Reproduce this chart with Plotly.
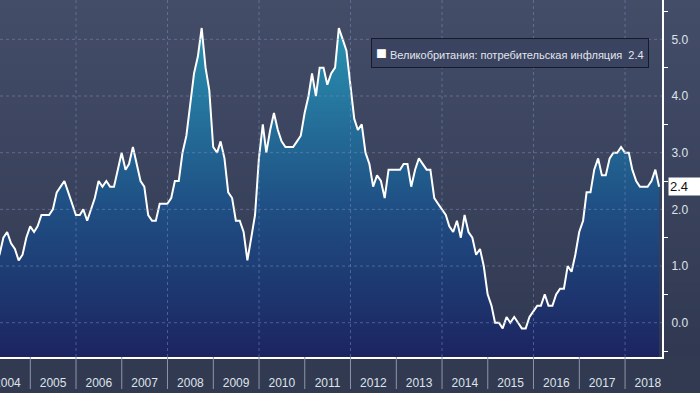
import base64, struct, zlib
import pandas as pd
import plotly.graph_objects as go

# ---- data (UK CPI, % y/y, monthly, Mar 2004 .. Sep 2018) ----
start_month = "2004-03-31"
cpi_2004 = [1.1, 1.2, 1.5, 1.6, 1.4, 1.3, 1.1, 1.2, 1.5, 1.7]
cpi_2005 = [1.6, 1.7, 1.9, 1.9, 1.9, 2.0, 2.3, 2.4, 2.5, 2.3, 2.1, 1.9]
cpi_2006 = [1.9, 2.0, 1.8, 2.0, 2.2, 2.5, 2.4, 2.5, 2.4, 2.4, 2.7, 3.0]
cpi_2007 = [2.7, 2.8, 3.1, 2.8, 2.5, 2.4, 1.9, 1.8, 1.8, 2.1, 2.1, 2.1]
cpi_2008 = [2.2, 2.5, 2.5, 3.0, 3.3, 3.8, 4.4, 4.7, 5.2, 4.5, 4.1, 3.1]
cpi_2009 = [3.0, 3.2, 2.9, 2.3, 2.2, 1.8, 1.8, 1.6, 1.1, 1.5, 1.9, 2.9]
cpi_2010 = [3.5, 3.0, 3.4, 3.7, 3.4, 3.2, 3.1, 3.1, 3.1, 3.2, 3.3, 3.7]
cpi_2011 = [4.0, 4.4, 4.0, 4.5, 4.5, 4.2, 4.4, 4.5, 5.2, 5.0, 4.8, 4.2]
cpi_2012 = [3.6, 3.4, 3.5, 3.0, 2.8, 2.4, 2.6, 2.5, 2.2, 2.7, 2.7, 2.7]
cpi_2013 = [2.7, 2.8, 2.8, 2.4, 2.7, 2.9, 2.8, 2.7, 2.7, 2.2, 2.1, 2.0]
cpi_2014 = [1.9, 1.7, 1.6, 1.8, 1.5, 1.9, 1.6, 1.5, 1.2, 1.3, 1.0, 0.5]
cpi_2015 = [0.3, 0.0, 0.0, -0.1, 0.1, 0.0, 0.1, 0.0, -0.1, -0.1, 0.1, 0.2]
cpi_2016 = [0.3, 0.3, 0.5, 0.3, 0.3, 0.5, 0.6, 0.6, 1.0, 0.9, 1.2, 1.6]
cpi_2017 = [1.8, 2.3, 2.3, 2.7, 2.9, 2.6, 2.6, 2.9, 3.0, 3.0, 3.1, 3.0]
cpi_2018 = [3.0, 2.7, 2.5, 2.4, 2.4, 2.4, 2.5, 2.7, 2.4]

series_name = "Великобритания: потребительская инфляция"
y_ticks = [0, 1, 2, 3, 4, 5]
y_minor = [-0.5, 0.5, 1.5, 2.5, 3.5, 4.5, 5.5]
label_years = list(range(2004, 2019))
year_ticks = list(range(2005, 2019))
grid_years = [2006, 2008, 2010, 2012, 2014, 2016, 2018]
x_range = ["2004-05-04", "2018-10-23"]
y_range = [-0.605, 5.694]

values = (cpi_2004 + cpi_2005 + cpi_2006 + cpi_2007 + cpi_2008 + cpi_2009 + cpi_2010
          + cpi_2011 + cpi_2012 + cpi_2013 + cpi_2014 + cpi_2015 + cpi_2016
          + cpi_2017 + cpi_2018)
dates = pd.date_range(start_month, periods=len(values), freq="ME")
last = values[-1]

# ---- background gradient image ----
def gradient_png(top, bottom, h=64):
    rows = b""
    for i in range(h):
        t = i / (h - 1)
        c = bytes(int(round(top[k] + (bottom[k] - top[k]) * t)) for k in range(3))
        rows += b"\x00" + c
    def chunk(tag, data):
        return struct.pack(">I", len(data)) + tag + data + struct.pack(">I", zlib.crc32(tag + data) & 0xffffffff)
    png = b"\x89PNG\r\n\x1a\n" + chunk(b"IHDR", struct.pack(">IIBBBBB", 1, h, 8, 2, 0, 0, 0))
    png += chunk(b"IDAT", zlib.compress(rows)) + chunk(b"IEND", b"")
    return "data:image/png;base64," + base64.b64encode(png).decode()

bg = gradient_png((68, 77, 104), (49, 57, 82))

FONT = "Liberation Sans"
fig = go.Figure()

# baseline for area fill down to the bottom of the plot
fig.add_trace(go.Scatter(x=dates, y=[y_range[0] - 1] * len(values), mode="lines",
                         line=dict(width=0, color="rgba(0,0,0,0)"), showlegend=False,
                         hoverinfo="skip"))
fig.add_trace(go.Scatter(
    x=dates, y=values, mode="lines", name=series_name,
    line=dict(color="white", width=2),
    fill="tonexty",
    fillgradient=dict(type="vertical", start=y_range[0], stop=5.3,
                      colorscale=[[0, "#1c2460"], [0.45, "#1f4f84"], [1, "#2a95b3"]]),
    showlegend=False,
))

# right-axis triangle markers & last value pointer
fig.add_trace(go.Scatter(x=[1 + 4 / 662] * len(y_ticks), y=y_ticks, xaxis="x2", mode="markers",
                         marker=dict(symbol="triangle-right", size=8, color="white"),
                         cliponaxis=False, showlegend=False, hoverinfo="skip"))
fig.add_trace(go.Scatter(x=[1 + 5 / 662], y=[last], xaxis="x2", mode="markers",
                         marker=dict(symbol="triangle-left", size=11, color="white"),
                         cliponaxis=False, showlegend=False, hoverinfo="skip"))

shapes = []
grid_line = dict(color="rgba(125,145,190,0.5)", width=1, dash="3px,3px")
for v in y_ticks:
    shapes.append(dict(type="line", xref="paper", yref="y", x0=0, x1=1, y0=v, y1=v,
                       line=grid_line, layer="above"))
for yr in grid_years:
    d = f"{yr}-01-01"
    shapes.append(dict(type="line", xref="x", yref="paper", x0=d, x1=d, y0=0, y1=1,
                       line=grid_line, layer="above"))
for yr in year_ticks:
    d = f"{yr}-01-01"
    shapes.append(dict(type="line", xref="x", yref="paper", x0=d, x1=d, y0=0, y1=-32 / 357,
                       line=dict(color="#8d96aa", width=1), layer="above"))

fig.update_layout(
    width=700, height=393,
    margin=dict(l=0, r=38, t=0, b=36),
    paper_bgcolor="#313a51",
    plot_bgcolor="#3a4360",
    font=dict(family=FONT, size=12, color="#dfe3ea"),
    images=[dict(source=bg, xref="paper", yref="paper", x=0, y=1, sizex=700 / 662, sizey=1,
                 sizing="stretch", layer="below")],
    shapes=shapes,
    xaxis=dict(type="date", range=x_range, showgrid=False, zeroline=False, automargin=False,
               tickvals=[f"{y}-07-02" for y in label_years],
               ticktext=[str(y) for y in label_years],
               ticks="", ticklabelstandoff=14, ticklabeloverflow="allow",
               showline=True, linecolor="white", linewidth=2,
               tickfont=dict(family=FONT, size=12, color="#dfe3ea")),
    xaxis2=dict(overlaying="x", range=[0, 1], visible=False),
    yaxis=dict(side="right", range=y_range, showgrid=False, zeroline=False, automargin=False,
               tickvals=y_ticks, ticktext=[f"{v:.1f}" for v in y_ticks],
               ticks="", ticklabelstandoff=5,
               showline=True, linecolor="white", linewidth=2,
               minor=dict(tickvals=y_minor, ticks="outside", ticklen=4, tickcolor="white", tickwidth=1),
               tickfont=dict(family=FONT, size=12, color="#dfe3ea")),
    showlegend=False,
    annotations=[
        dict(xref="paper", yref="y", x=1, xshift=6, xanchor="left", y=last, yanchor="middle",
             text=f"{last:.1f}", showarrow=False, bgcolor="white", borderpad=1,
             font=dict(family=FONT, size=13, color="#111111"), width=34, align="left"),
        dict(xref="paper", yref="paper", x=371 / 662, y=1 - 38 / 357, xanchor="left", yanchor="top",
             text=("<span style='color:white;font-size:18px'>■</span>\u00a0" + series_name
                   + "\u00a0\u00a0" + f"{last:.1f}"),
             showarrow=False, bgcolor="#3a4461", bordercolor="#161b2b", borderwidth=1, borderpad=4,
             font=dict(family=FONT, size=11, color="#e3e6ec")),
    ],
)

fig.write_html("out.html", config={"displayModeBar": False},
               post_script="document.body.style.margin='0';")
